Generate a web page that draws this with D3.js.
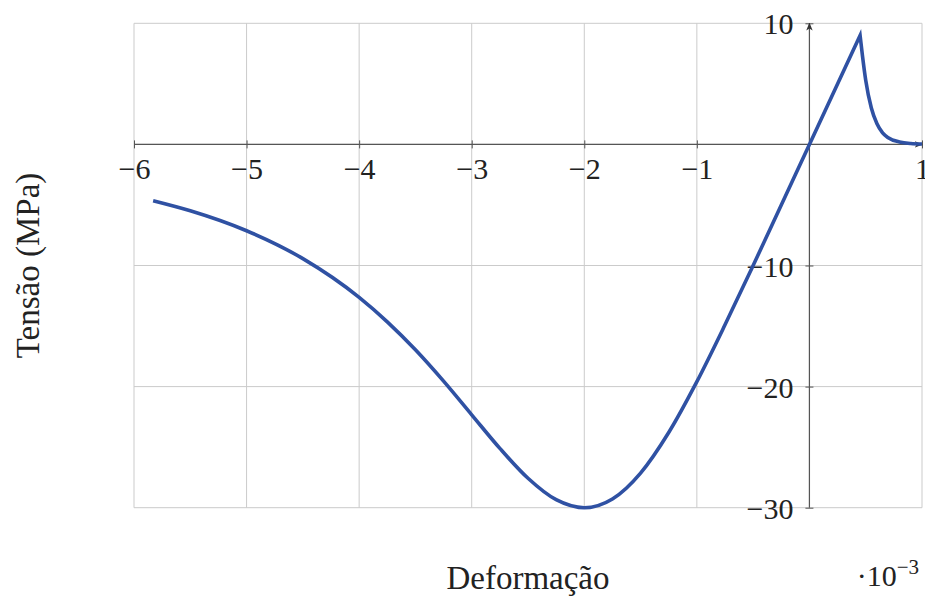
<!DOCTYPE html>
<html>
<head>
<meta charset="utf-8">
<script src="https://cdn.jsdelivr.net/npm/d3@7"></script>
<style>
  body { margin: 0; background: #fff; }
  text { font-family: "Liberation Serif", "DejaVu Serif", serif; fill: #222; }
</style>
</head>
<body>
<svg id="chart"></svg>
<script>
// strain (x 10^-3) and stress (MPa)
const strainComp = [-5.83, -5.5, -5.0, -4.5, -4.0, -3.75, -3.5, -3.25, -3.0, -2.75, -2.5, -2.25,
  -2.0, -1.75, -1.5, -1.25, -1.0, -0.75, -0.5, -0.25, 0, 0.45];
const stressComp = [-4.65, -5.48, -7.13, -9.43, -12.63, -14.65, -16.96, -19.55, -22.33, -25.1, -27.57, -29.34,
  -30.0, -29.28, -27.14, -23.79, -19.59, -14.9, -10.0, -5.0, 0, 9.0];
const strainTens = [0.45, 0.47, 0.5, 0.55, 0.6, 0.65, 0.7, 0.8, 0.9, 1.0];
const stressTens = [9.0, 7.4, 5.3, 3.0, 1.7, 0.95, 0.55, 0.2, 0.07, 0.03];

const xTicks = [-6, -5, -4, -3, -2, -1, 0, 1];
const yTicks = [-30, -20, -10, 0, 10];
const xLabels = [-6, -5, -4, -3, -2, -1, 1];
const yLabels = [-30, -20, -10, 10];

const width = 925, height = 596;
const margin = { top: 23.3, right: 3, bottom: 88.3, left: 134 };

const svg = d3.select("#chart").attr("width", width).attr("height", height);

const x = d3.scaleLinear().domain([-6, 1]).range([margin.left, width - margin.right]);
const y = d3.scaleLinear().domain([-30, 10]).range([height - margin.bottom, margin.top]);

const axisColor = "#555";
const fs = 30;

// arrow heads
const defs = svg.append("defs");
defs.append("marker")
  .attr("id", "arr")
  .attr("viewBox", "0 -5 10 10")
  .attr("refX", 9).attr("refY", 0)
  .attr("markerWidth", 8).attr("markerHeight", 8)
  .attr("markerUnits", "userSpaceOnUse")
  .attr("orient", "auto")
  .append("path")
  .attr("d", "M0,-4 L10,0 L0,4 L2.5,0 Z")
  .attr("fill", "#333");

// grid
const grid = svg.append("g").attr("stroke", "#cbcbcb").attr("stroke-width", 1);
grid.selectAll("line.v").data(xTicks).join("line")
  .attr("class", "v")
  .attr("x1", d => x(d)).attr("x2", d => x(d))
  .attr("y1", y(10)).attr("y2", y(-30));
grid.selectAll("line.h").data(yTicks).join("line")
  .attr("class", "h")
  .attr("x1", x(-6)).attr("x2", x(1))
  .attr("y1", d => y(d)).attr("y2", d => y(d));

// axes through the origin
const xAxis = svg.append("g")
  .attr("transform", `translate(0,${y(0)})`)
  .call(d3.axisBottom(x).tickValues(xLabels).tickFormat(d3.format("d")).tickSize(4));
xAxis.select(".domain").remove();
xAxis.selectAll(".tick line").attr("y1", -4).attr("y2", 4).attr("stroke", axisColor);
xAxis.selectAll(".tick text")
  .attr("y", 13).attr("dy", "0.71em")
  .attr("font-size", fs).attr("fill", "#222")
  .style("font-family", "Liberation Serif, serif");

const yAxis = svg.append("g")
  .attr("transform", `translate(${x(0)},0)`)
  .call(d3.axisLeft(y).tickValues(yLabels).tickFormat(d3.format("d")).tickSize(4));
yAxis.select(".domain").remove();
yAxis.selectAll(".tick line").attr("x1", -4).attr("x2", 4).attr("stroke", axisColor);
yAxis.selectAll(".tick text")
  .attr("x", -16).attr("dy", "0.35em")
  .attr("font-size", fs).attr("fill", "#222")
  .style("font-family", "Liberation Serif, serif");

svg.append("line")
  .attr("x1", x(-6)).attr("x2", x(1))
  .attr("y1", y(0)).attr("y2", y(0))
  .attr("stroke", axisColor).attr("stroke-width", 1.2)
  .attr("marker-end", "url(#arr)");
svg.append("line")
  .attr("x1", x(0)).attr("x2", x(0))
  .attr("y1", y(-30)).attr("y2", y(10))
  .attr("stroke", axisColor).attr("stroke-width", 1.2)
  .attr("marker-end", "url(#arr)");

// the curve: two smooth branches joined at the tension peak
const line = d3.line().x(d => x(d[0])).y(d => y(d[1])).curve(d3.curveMonotoneX);
const p1 = line(d3.zip(strainComp, stressComp));
const p2 = line(d3.zip(strainTens, stressTens)).replace(/^M[^A-Za-z]*/, "");

svg.append("path")
  .attr("d", p1 + p2)
  .attr("fill", "none")
  .attr("stroke", "#2f51a3")
  .attr("stroke-width", 3.6)
  .attr("stroke-linejoin", "miter")
  .attr("stroke-miterlimit", 10);

// labels
svg.append("text")
  .attr("x", (x(-6) + x(1)) / 2).attr("y", 589)
  .attr("text-anchor", "middle")
  .attr("font-size", 33)
  .text("Deformação");

svg.append("text")
  .attr("transform", `translate(39,${(y(10) + y(-30)) / 2}) rotate(-90)`)
  .attr("text-anchor", "middle")
  .attr("font-size", 33)
  .text("Tensão (MPa)");

const mult = svg.append("text")
  .attr("x", 919).attr("y", 586)
  .attr("text-anchor", "end")
  .attr("font-size", fs);
mult.append("tspan").text("·10");
mult.append("tspan").attr("dy", -12).attr("font-size", 21).text("−3");
</script>
</body>
</html>
